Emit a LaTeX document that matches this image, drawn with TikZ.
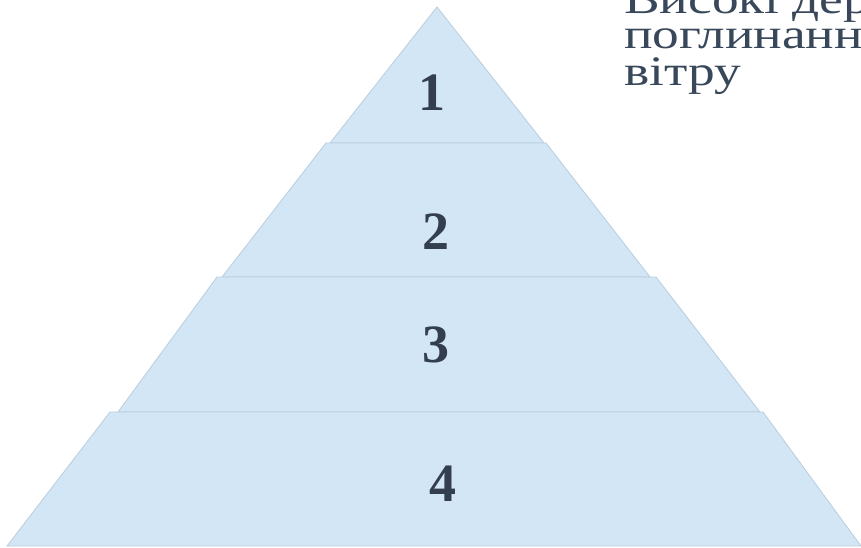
\documentclass[tikz,border=0pt]{standalone}
\usepackage{fontspec}
\setmainfont{Liberation Serif}
\definecolor{layerfill}{HTML}{D3E6F5}
\definecolor{layerline}{HTML}{B9CDDF}
\definecolor{numcol}{HTML}{333F4F}
\definecolor{txtcol}{HTML}{38485A}
\newcommand{\widetxt}[1]{\scalebox{1.27}[1]{#1}}
\begin{document}
\begin{tikzpicture}[x=1pt,y=-1pt,
  layer/.style={fill=layerfill,draw=layerline,line width=0.8pt,line join=miter},
  num/.style={text=numcol,font=\fontsize{54}{54}\selectfont\bfseries,inner sep=0pt},
  side/.style={text=txtcol,font=\fontsize{42}{42}\selectfont,inner sep=0pt,anchor=base west}]
\useasboundingbox (0,0) rectangle (861,547);
\fill[white] (0,0) rectangle (861,547);
% layers
\draw[layer] (437,7) -- (544,143) -- (330,143) -- cycle;
\draw[layer] (326,143) -- (546,143) -- (650,277) -- (222,277) -- cycle;
\draw[layer] (217,277) -- (656,277) -- (760,412) -- (118,412) -- cycle;
\draw[layer] (110,412) -- (763,412) -- (861,546) -- (7,546) -- cycle;
% numbers
\node[num] (n1) at (432,93) {1};
\node[num] (n2) at (436,232) {2};
\node[num] (n3) at (436,345) {3};
\node[num] (n4) at (443,484) {4};
% side text
\node[side] (t1) at (624,13) {\widetxt{Високі дер}};
\node[side] (t2) at (624,48) {\widetxt{поглинанн}};
\node[side] (t3) at (624,85) {\widetxt{вітру}};
\end{tikzpicture}
\end{document}
